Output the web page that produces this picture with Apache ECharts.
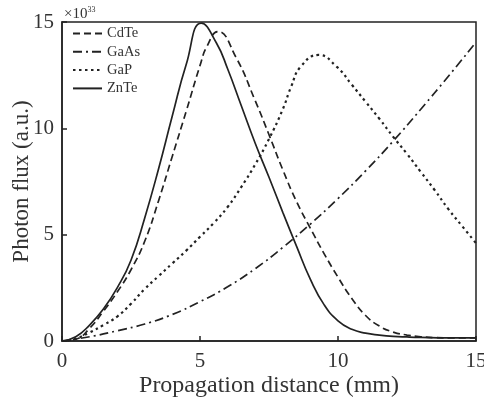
<!DOCTYPE html>
<html>
<head>
<meta charset="utf-8">
<script src="https://cdn.jsdelivr.net/npm/echarts@6/dist/echarts.min.js"></script>
<style>
  html, body { margin: 0; padding: 0; background: #fff; }
  #chart { width: 484px; height: 398px; }
</style>
</head>
<body>
<div id="chart"></div>
<script>
// values (x in mm, y in units of 1e33)
const seriesNames = ['CdTe', 'GaAs', 'GaP', 'ZnTe']

const cdteX = [0, 0.5, 1, 1.5, 2, 2.5, 3, 3.5, 4, 4.5, 5, 5.25, 5.65, 6.3, 7, 7.5, 8, 8.5, 9, 9.5, 10, 10.5, 11, 11.5, 12, 12.5, 13, 13.5, 14, 15]
const cdteY = [0, 0.08, 0.6, 1.4, 2.3, 3.35, 4.7, 6.6, 8.7, 10.8, 12.95, 13.85, 14.55, 13.35, 11.3, 9.7, 8.05, 6.55, 5.3, 4.1, 3.0, 2.0, 1.2, 0.7, 0.42, 0.28, 0.2, 0.16, 0.15, 0.15]

const gaasX = [0, 1, 2, 3, 4, 5, 6, 7, 8, 9, 10, 11, 12, 13, 14, 15]
const gaasY = [0, 0.2, 0.48, 0.8, 1.25, 1.85, 2.55, 3.4, 4.4, 5.5, 6.7, 8.0, 9.4, 10.9, 12.45, 14.05]

const gapX = [0, 0.5, 1, 1.5, 2, 2.5, 3, 3.5, 4, 4.5, 5, 5.5, 6, 6.5, 7, 7.5, 8, 8.3, 8.65, 9.3, 9.95, 10.5, 11, 11.5, 12, 12.5, 13, 13.5, 14, 14.5, 15]
const gapY = [0, 0.12, 0.4, 0.75, 1.15, 1.75, 2.45, 3.05, 3.65, 4.25, 4.9, 5.55, 6.3, 7.25, 8.3, 9.5, 10.9, 11.95, 12.9, 13.45, 12.9, 12.05, 11.25, 10.45, 9.6, 8.8, 7.95, 7.1, 6.2, 5.4, 4.6]

const znteX = [0, 0.5, 1, 1.5, 2, 2.5, 3, 3.5, 4, 4.5, 5.05, 5.6, 6, 6.5, 7, 7.5, 8, 8.5, 9, 9.5, 10, 10.5, 11, 11.5, 12, 12.5, 13, 14, 15]
const znteY = [0, 0.2, 0.75, 1.5, 2.5, 3.8, 5.8, 8.1, 10.6, 13.0, 14.95, 14.0, 12.8, 11.05, 9.3, 7.7, 6.05, 4.45, 2.9, 1.7, 0.95, 0.55, 0.37, 0.28, 0.22, 0.19, 0.17, 0.15, 0.15]

const xTicks = [0, 5, 10, 15]
const yTicks = [0, 5, 10, 15]

const zip = (xs, ys) => xs.map((x, i) => [x, ys[i]])

const chart = echarts.init(document.getElementById('chart'))

const serif = 'Liberation Serif'
const ink = '#222'
const textColor = '#333'

const lineBase = { color: ink, width: 1.7 }

const option = {
  animation: false,
  title: {
    text: '{x|×10}{s|33}',
    left: 64, top: 6, padding: 0,
    textStyle: {
      fontWeight: 'normal',
      rich: {
        x: { fontFamily: serif, fontSize: 15, fontWeight: 'normal', color: textColor, lineHeight: 16 },
        s: { fontFamily: serif, fontSize: 8, fontWeight: 'normal', color: textColor, lineHeight: 9, verticalAlign: 'top' }
      }
    }
  },
  grid: {
    left: 62, right: 8, top: 22, bottom: 57,
    outerBoundsMode: 'none', containLabel: false,
    show: true, borderColor: ink, borderWidth: 1.5
  },
  legend: {
    left: 72, top: 26, orient: 'vertical', padding: 0,
    itemWidth: 29, itemHeight: 14, itemGap: 3.3,
    itemStyle: { opacity: 0 },
    textStyle: { fontFamily: serif, fontSize: 14.5, color: textColor },
    data: seriesNames
  },
  xAxis: {
    type: 'value', min: xTicks[0], max: xTicks[xTicks.length - 1], interval: 5,
    name: 'Propagation distance (mm)', nameLocation: 'middle', nameGap: 33,
    nameMoveOverlap: false,
    nameTextStyle: { fontFamily: serif, fontSize: 24, color: textColor },
    axisLine: { lineStyle: { color: ink, width: 1.5 } },
    axisTick: { inside: true, length: 5, lineStyle: { color: ink, width: 1.5 } },
    axisLabel: { margin: 10, fontFamily: serif, fontSize: 21, color: textColor },
    splitLine: { show: false }
  },
  yAxis: {
    type: 'value', min: yTicks[0], max: yTicks[yTicks.length - 1], interval: 5,
    name: 'Photon flux (a.u.)', nameLocation: 'middle', nameGap: 29,
    nameMoveOverlap: false,
    nameTextStyle: { fontFamily: serif, fontSize: 23, color: textColor },
    axisLine: { show: true, lineStyle: { color: ink, width: 1.5 } },
    axisTick: { show: true, inside: true, length: 5, lineStyle: { color: ink, width: 1.5 } },
    axisLabel: { margin: 8, fontFamily: serif, fontSize: 21, color: textColor },
    splitLine: { show: false }
  },
  series: [
    {
      name: 'CdTe', type: 'line', smooth: true, showSymbol: false, symbol: 'none',
      lineStyle: Object.assign({}, lineBase, { type: [7, 4] }),
      itemStyle: { color: ink },
      data: zip(cdteX, cdteY)
    },
    {
      name: 'GaAs', type: 'line', smooth: true, showSymbol: false, symbol: 'none',
      lineStyle: Object.assign({}, lineBase, { type: [9, 4, 2, 4] }),
      itemStyle: { color: ink },
      data: zip(gaasX, gaasY)
    },
    {
      name: 'GaP', type: 'line', smooth: true, showSymbol: false, symbol: 'none',
      lineStyle: Object.assign({}, lineBase, { width: 2.2, type: [2.5, 3.5] }),
      itemStyle: { color: ink },
      data: zip(gapX, gapY)
    },
    {
      name: 'ZnTe', type: 'line', smooth: true, showSymbol: false, symbol: 'none',
      lineStyle: Object.assign({}, lineBase, { type: 'solid' }),
      itemStyle: { color: ink },
      data: zip(znteX, znteY)
    }
  ]
}

chart.setOption(option)
</script>
</body>
</html>
